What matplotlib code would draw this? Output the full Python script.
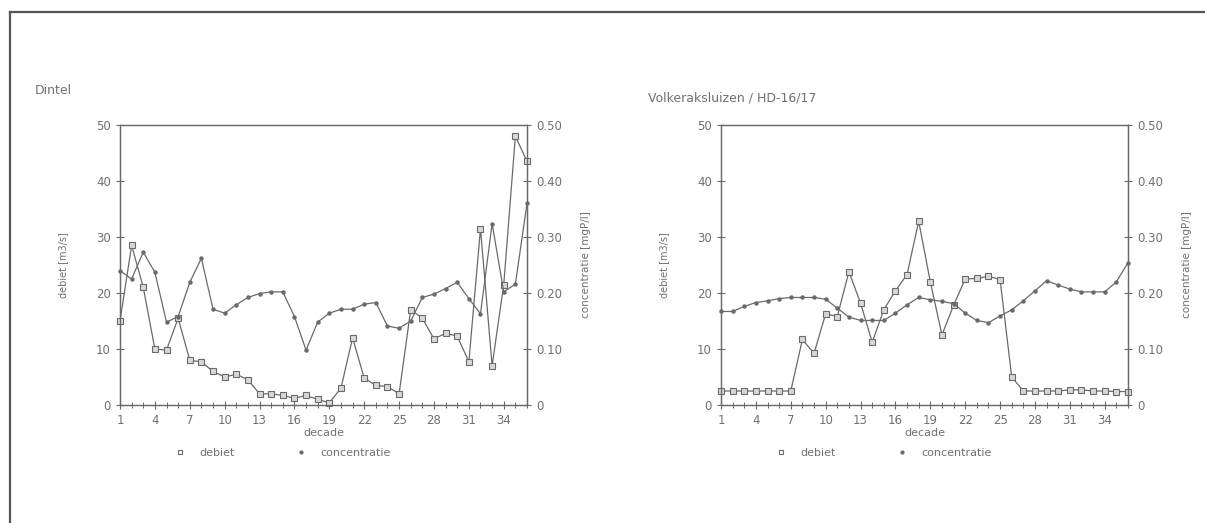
import matplotlib
matplotlib.use("Agg")
from matplotlib import pyplot as plt
from matplotlib.lines import Line2D
import numpy as np

decade = np.arange(1, 37)

# Dintel
dintel_debiet = [15, 28.5, 21, 10, 9.8, 15.5, 8, 7.7, 6, 5, 5.5, 4.5, 2, 2, 1.7, 1.2, 1.7, 1,
                 0.4, 3, 12, 4.8, 3.5, 3.3, 2, 17, 15.5, 11.8, 12.8, 12.3, 7.7, 31.5, 7, 21.5,
                 48, 43.5]
dintel_conc = [0.24, 0.225, 0.273, 0.237, 0.148, 0.158, 0.219, 0.262, 0.171, 0.164, 0.179,
               0.192, 0.199, 0.202, 0.202, 0.158, 0.098, 0.148, 0.164, 0.171, 0.171, 0.18,
               0.183, 0.141, 0.137, 0.15, 0.192, 0.198, 0.208, 0.219, 0.19, 0.163, 0.324,
               0.202, 0.216, 0.36]

# Volkeraksluizen / HD-16/17
volk_debiet = [2.5, 2.5, 2.5, 2.5, 2.5, 2.5, 2.5, 11.7, 9.2, 16.3, 15.8, 23.8, 18.2, 11.2,
               17, 20.4, 23.3, 32.8, 22, 12.5, 17.8, 22.5, 22.6, 23, 22.4, 5, 2.5, 2.5, 2.5,
               2.5, 2.7, 2.7, 2.5, 2.5, 2.4, 2.4]
volk_conc = [0.167, 0.167, 0.176, 0.183, 0.186, 0.19, 0.192, 0.192, 0.192, 0.189, 0.173,
             0.157, 0.151, 0.151, 0.151, 0.164, 0.179, 0.192, 0.188, 0.185, 0.181, 0.164,
             0.151, 0.147, 0.159, 0.17, 0.186, 0.204, 0.222, 0.214, 0.207, 0.202, 0.202,
             0.202, 0.22, 0.254]

titles = ["Dintel", "Volkeraksluizen / HD-16/17"]
xticks = np.arange(1, 35, 3)
conc_ticks = [0, 0.1, 0.2, 0.3, 0.4, 0.5]
conc_labels = ["0", "0.10", "0.20", "0.30", "0.40", "0.50"]

grey = "#6a6a6a"
txt = "#707070"
fs = 8

fig = plt.figure(figsize=(12.05, 5.23), dpi=100)

# page frame (top and left lines)
fig.add_artist(Line2D([10 / 1205, 1], [1 - 12 / 523, 1 - 12 / 523], color="#555555", lw=1.6))
fig.add_artist(Line2D([10 / 1205, 10 / 1205], [0, 1 - 12 / 523], color="#555555", lw=1.6))

panels = [(dintel_debiet, dintel_conc, 120, 35, 90),
          (volk_debiet, volk_conc, 721, 648, 98)]

for i, (deb, conc, left_px, tx, ty) in enumerate(panels):
    ax = fig.add_axes([left_px / 1205, 118 / 523, 407 / 1205, 280 / 523])
    ax2 = ax.twinx()
    ax.plot(decade, deb, color=grey, lw=0.9, marker="s", ms=5, mfc="#d8d8d8",
            mec=grey, mew=0.8, clip_on=False, zorder=3)
    ax2.plot(decade, conc, color=grey, lw=0.9, marker="o", ms=2.2, mfc=grey, mec=grey,
             clip_on=False)
    ax.set_xlim(1, 36)
    ax.set_ylim(0, 50)
    ax2.set_ylim(0, 0.5)
    ax.set_xticks(xticks)
    ax.set_xticks(decade, minor=True)
    ax.set_yticks(np.arange(0, 51, 10))
    ax2.set_yticks(conc_ticks)
    ax2.set_yticklabels(conc_labels)
    for a in (ax, ax2):
        for s in a.spines.values():
            s.set_color(grey)
            s.set_linewidth(0.9)
        a.tick_params(colors=grey, labelcolor=txt, labelsize=fs + 0.5, direction="inout",
                      length=6, width=0.8)
        a.tick_params(which="minor", colors=grey, direction="inout", length=4, width=0.7)
    ax.set_xlabel("decade", fontsize=fs, color=txt, labelpad=1)
    ax.set_ylabel("debiet [m3/s]", fontsize=fs - 1, color=txt, labelpad=20)
    ax2.set_ylabel("concentratie [mgP/l]", fontsize=fs - 0.5, color=txt, labelpad=14)
    fig.text(tx / 1205, 1 - ty / 523, titles[i], fontsize=9, color=txt, va="center")

    handles = [Line2D([], [], ls="none", marker="s", ms=3.5, mfc="white", mec=grey, mew=0.8),
               Line2D([], [], ls="none", marker="o", ms=2, mfc=grey, mec=grey)]
    ax.legend(handles, ["debiet", "concentratie"], loc="center left",
              bbox_to_anchor=(0.11, -0.172), ncol=2, frameon=False, fontsize=fs,
              labelcolor=txt, columnspacing=5.5, handletextpad=1.2, handlelength=1)

fig.savefig("out.png", dpi=100)
